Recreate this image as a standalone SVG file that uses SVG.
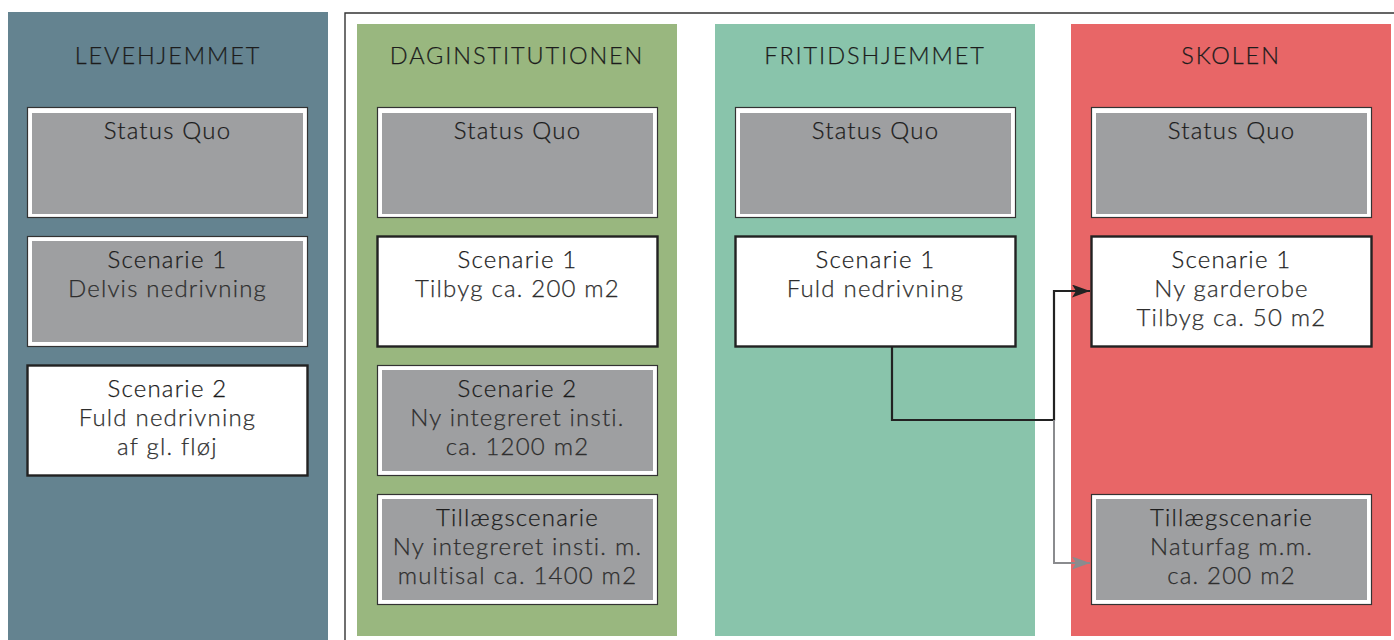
<svg xmlns="http://www.w3.org/2000/svg" width="1394" height="640" viewBox="0 0 1394 640">
<defs>
<style>
.t{font-family:Lato,"Open Sans","Liberation Sans",sans-serif;font-size:24px;fill:#1c1c1c;text-anchor:middle;font-weight:300;letter-spacing:1.2px;stroke:#1c1c1c;stroke-width:0.25px}
.h{font-size:23.5px;letter-spacing:1.9px}
.s{fill:#2e2e2e;stroke:#2e2e2e}
.gout{fill:#ffffff;stroke:#333;stroke-width:1.2}
.gin{fill:#9e9fa1}
.w{fill:#ffffff;stroke:#222;stroke-width:2.4}
</style>
<marker id="ab" viewBox="0 0 18 13" refX="18" refY="6.5" markerWidth="18" markerHeight="13" markerUnits="userSpaceOnUse" orient="auto"><path d="M0,0 L18,6.5 L0,13 L4,6.5 Z" fill="#222"/></marker>
<marker id="ag" viewBox="0 0 18 13" refX="18" refY="6.5" markerWidth="18" markerHeight="13" markerUnits="userSpaceOnUse" orient="auto"><path d="M0,0 L18,6.5 L0,13 L4,6.5 Z" fill="#8a8b8e"/></marker>
</defs>
<rect width="1394" height="640" fill="#ffffff"/>
<rect x="8" y="12" width="320" height="630" fill="#648390"/>
<path d="M345,645 V13 H1396" fill="none" stroke="#333" stroke-width="1.4"/>
<rect x="357" y="24" width="320" height="612" fill="#99b77f"/>
<rect x="715" y="24" width="320" height="612" fill="#89c4ab"/>
<rect x="1071" y="24" width="320" height="612" fill="#e86667"/>

<g id="title-levehjemmet"><text class="t h" x="168" y="64">LEVEHJEMMET</text></g>
<g id="title-daginstitutionen"><text class="t h" x="517" y="64">DAGINSTITUTIONEN</text></g>
<g id="title-fritidshjemmet"><text class="t h" x="875" y="64">FRITIDSHJEMMET</text></g>
<g id="title-skolen"><text class="t h" x="1231" y="64">SKOLEN</text></g>

<g id="connectors">
<path d="M892,347 V420 H1054 V291 H1090" fill="none" stroke="#222" stroke-width="2.2" marker-end="url(#ab)"/>
<path d="M1054,420 V563 H1090" fill="none" stroke="#8a8b8e" stroke-width="2" marker-end="url(#ag)"/>
</g>

<g id="leve-sq"><rect class="gout" x="27.5" y="107.5" width="280" height="110"/><rect class="gin" x="32" y="113" width="271" height="101"/><text class="t" x="167.5" y="139">Status Quo</text></g>
<g id="leve-s1"><rect class="gout" x="27.5" y="236.5" width="280" height="110"/><rect class="gin" x="32" y="241" width="271" height="101"/><text class="t" x="167.5" y="268">Scenarie 1</text><text class="t s" x="167.5" y="297">Delvis nedrivning</text></g>
<g id="leve-s2"><rect class="w" x="27.5" y="365.5" width="280" height="110"/><text class="t" x="167.5" y="397">Scenarie 2</text><text class="t s" x="167.5" y="426">Fuld nedrivning</text><text class="t s" x="167.5" y="455">af gl. fløj</text></g>

<g id="dag-sq"><rect class="gout" x="377.5" y="107.5" width="280" height="110"/><rect class="gin" x="382" y="113" width="271" height="101"/><text class="t" x="517.5" y="139">Status Quo</text></g>
<g id="dag-s1"><rect class="w" x="377.5" y="236.5" width="280" height="110"/><text class="t" x="517.5" y="268">Scenarie 1</text><text class="t s" x="517.5" y="297">Tilbyg ca. 200 m2</text></g>
<g id="dag-s2"><rect class="gout" x="377.5" y="365.5" width="280" height="110"/><rect class="gin" x="382" y="370" width="271" height="101"/><text class="t" x="517.5" y="397">Scenarie 2</text><text class="t s" x="517.5" y="426">Ny integreret insti.</text><text class="t s" x="517.5" y="455">ca. 1200 m2</text></g>
<g id="dag-till"><rect class="gout" x="377.5" y="494.5" width="280" height="110"/><rect class="gin" x="382" y="499" width="271" height="101"/><text class="t" x="517.5" y="526">Tillægscenarie</text><text class="t s" x="517.5" y="555">Ny integreret insti. m.</text><text class="t s" x="517.5" y="584">multisal ca. 1400 m2</text></g>

<g id="frit-sq"><rect class="gout" x="735.5" y="107.5" width="280" height="110"/><rect class="gin" x="740" y="113" width="271" height="101"/><text class="t" x="875.5" y="139">Status Quo</text></g>
<g id="frit-s1"><rect class="w" x="735.5" y="236.5" width="280" height="110"/><text class="t" x="875.5" y="268">Scenarie 1</text><text class="t s" x="875.5" y="297">Fuld nedrivning</text></g>

<g id="skol-sq"><rect class="gout" x="1091.5" y="107.5" width="280" height="110"/><rect class="gin" x="1096" y="113" width="271" height="101"/><text class="t" x="1231.5" y="139">Status Quo</text></g>
<g id="skol-s1"><rect class="w" x="1091.5" y="236.5" width="280" height="110"/><text class="t" x="1231.5" y="268">Scenarie 1</text><text class="t s" x="1231.5" y="297">Ny garderobe</text><text class="t s" x="1231.5" y="326">Tilbyg ca. 50 m2</text></g>
<g id="skol-till"><rect class="gout" x="1091.5" y="494.5" width="280" height="110"/><rect class="gin" x="1096" y="499" width="271" height="101"/><text class="t" x="1231.5" y="526">Tillægscenarie</text><text class="t s" x="1231.5" y="555">Naturfag m.m.</text><text class="t s" x="1231.5" y="584">ca. 200 m2</text></g>
</svg>
